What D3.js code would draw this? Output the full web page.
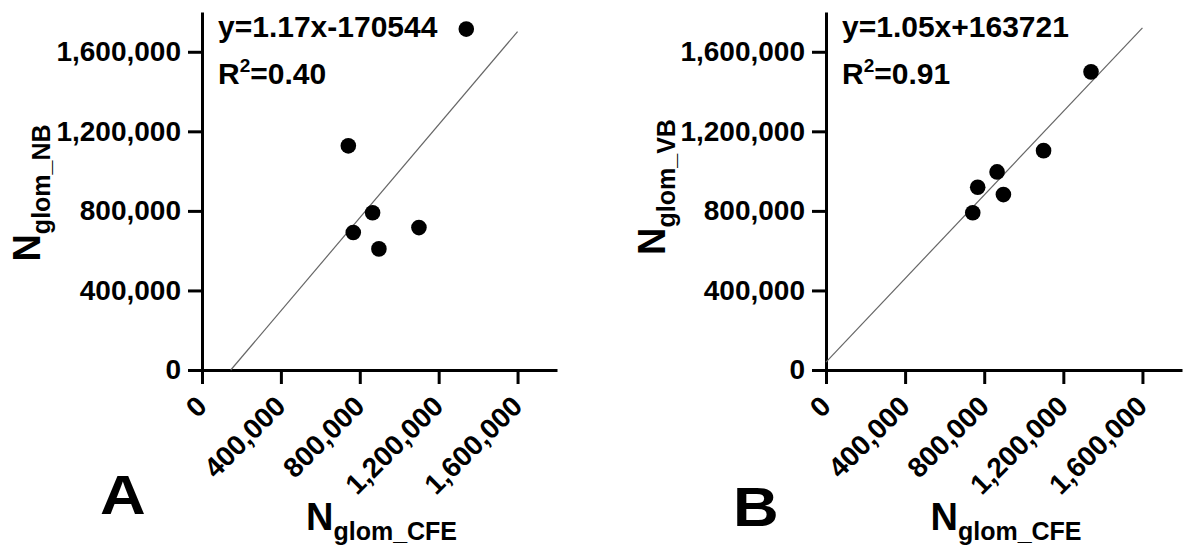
<!DOCTYPE html>
<html>
<head>
<meta charset="utf-8">
<script src="https://cdn.jsdelivr.net/npm/d3@7"></script>
<style>
  body { margin: 0; background: #fff; }
  svg text { font-family: "Liberation Sans", Arial, sans-serif; font-weight: bold; fill: #000; }
</style>
</head>
<body>
<div class="chart"></div>
<script>
var svgWidth = 1183;
var svgHeight = 552;

// shared x values (N glom CFE) for the six kidneys
var cfe = [742000, 767000, 865000, 897000, 1100000, 1340000];
// panel A: NB, panel B: VB
var nb = [1127000, 691000, 791000, 609000, 716000, 1714000];
var vb = [791000, 919000, 996000, 882000, 1103000, 1499000];

var tickVals = [0, 400000, 800000, 1200000, 1600000];
var axisMax = 1800000;

// regression lines as drawn
var fitSlope = [1.17, 1.05];
var fitIntercept = [-170544, 40000];
var fitXEnd = 1600000;

var eqLabels = ["y=1.17x-170544", "y=1.05x+163721"];
var r2Labels = ["=0.40", "=0.91"];
var yTitles = ["glom_NB", "glom_VB"];
var panelLetters = ["A", "B"];

var svg = d3.select(".chart")
  .append("svg")
  .attr("width", svgWidth)
  .attr("height", svgHeight);

var panels = [
  { x0: 202, x1: 557, ys: nb, letterX: 100, letterY: 514, titleX: 40, titleY: 193 },
  { x0: 826, x1: 1182, ys: vb, letterX: 733, letterY: 526, titleX: 665, titleY: 187 }
];

panels.forEach(function(p, i) {
  var g = svg.append("g");

  var x = d3.scaleLinear().domain([0, axisMax]).range([p.x0, p.x1]);
  var y = d3.scaleLinear().domain([0, axisMax]).range([370, 12]);

  var fmt = d3.format(",");

  // axes
  var xAxis = g.append("g")
    .attr("transform", "translate(0,370)")
    .call(d3.axisBottom(x).tickValues(tickVals).tickSize(14).tickSizeOuter(0).tickFormat(fmt));
  xAxis.selectAll("text")
    .attr("font-size", 28)
    .attr("text-anchor", "end")
    .attr("transform", "translate(-1,31) rotate(-45)")
    .attr("dy", "0.35em")
    .attr("y", 0).attr("x", 0);

  var yAxis = g.append("g")
    .attr("transform", "translate(" + p.x0 + ",0)")
    .call(d3.axisLeft(y).tickValues(tickVals).tickSize(14).tickSizeOuter(0).tickFormat(fmt));
  yAxis.selectAll("text")
    .attr("font-size", 28)
    .attr("x", -21);

  g.selectAll(".domain, .tick line")
    .attr("stroke", "#000")
    .attr("stroke-width", 3);
  g.selectAll(".tick text").attr("fill", "#000").attr("font-family", null);

  // regression line, clipped at y = 0
  var a = fitSlope[i], b = fitIntercept[i];
  var xs = Math.max(0, -b / a);
  g.append("line")
    .attr("x1", x(xs)).attr("y1", y(a * xs + b))
    .attr("x2", x(fitXEnd)).attr("y2", y(a * fitXEnd + b))
    .attr("stroke", "#666")
    .attr("stroke-width", 1.2);

  // points
  g.selectAll("circle")
    .data(cfe)
    .enter()
    .append("circle")
    .attr("cx", d => x(d))
    .attr("cy", (d, j) => y(p.ys[j]))
    .attr("r", 7.8)
    .attr("fill", "#000");

  // equation and R2
  g.append("text")
    .attr("x", p.x0 + 16).attr("y", 37)
    .attr("font-size", 30)
    .text(eqLabels[i]);
  var r2 = g.append("text")
    .attr("x", p.x0 + 16).attr("y", 84)
    .attr("font-size", 30);
  r2.append("tspan").text("R");
  r2.append("tspan").attr("font-size", 19).attr("dy", -12).text("2");
  r2.append("tspan").attr("dy", 12).text(r2Labels[i]);

  // y title
  var yt = g.append("text")
    .attr("transform", "translate(" + p.titleX + "," + p.titleY + ") rotate(-90)")
    .attr("text-anchor", "middle")
    .attr("font-size", 38);
  yt.append("tspan").text("N");
  yt.append("tspan").attr("font-size", 25).attr("dy", 10).text(yTitles[i]);

  // x title
  var xt = g.append("text")
    .attr("transform", "translate(" + ((p.x0 + p.x1) / 2 + 2) + ",530)")
    .attr("text-anchor", "middle")
    .attr("font-size", 38);
  xt.append("tspan").text("N");
  xt.append("tspan").attr("font-size", 25).attr("dy", 10).text("glom_CFE");

  // panel letter, a little wider than the font
  g.append("text")
    .attr("transform", "translate(" + p.letterX + "," + p.letterY + ") scale(1.15,1)")
    .attr("font-size", 55)
    .text(panelLetters[i]);
});
</script>
</body>
</html>
